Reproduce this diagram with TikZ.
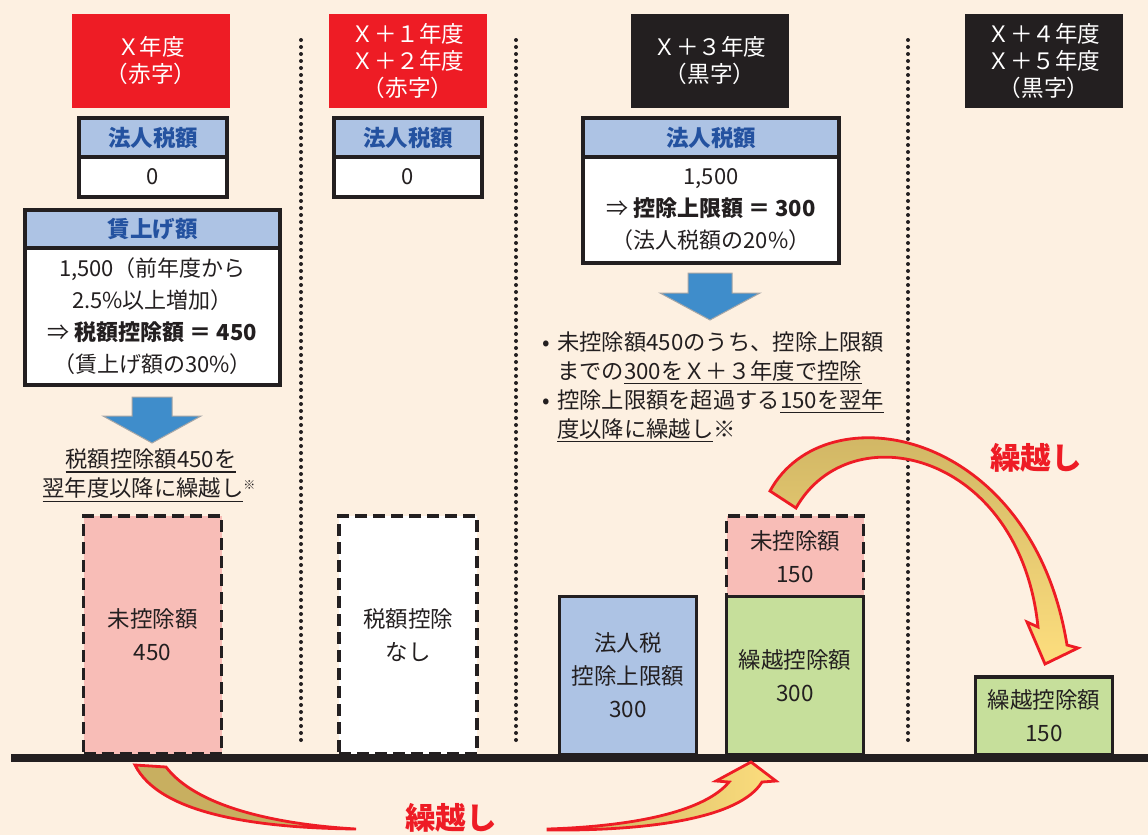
\documentclass[tikz,border=0pt]{standalone}
\usepackage{fontspec}
\setmainfont{Noto Sans CJK JP}
\definecolor{bg}{HTML}{FDF0E1}
\definecolor{hred}{HTML}{EE1C25}
\definecolor{ink}{HTML}{231F20}
\definecolor{hblue}{HTML}{ADC3E4}
\definecolor{tblue}{HTML}{2452A0}
\definecolor{pinkbar}{HTML}{F8BDB7}
\definecolor{greenbar}{HTML}{C6DF9B}
\definecolor{arrblue}{HTML}{3F8DCB}
\definecolor{khaki}{HTML}{C8AF60}
\definecolor{yel}{HTML}{FDDE7E}
\newcommand\ulin[1]{\setbox0=\hbox{#1}\rlap{\color{ink}\rule[-5pt]{\wd0}{1.4pt}}\box0}
\begin{document}
\begin{tikzpicture}[x=1pt,y=-1pt,
  hdr/.style={fill=#1, text=white, minimum width=158pt, minimum height=94pt, inner sep=0pt, align=center, font=\fontsize{22.6}{27}\selectfont},
  boxhead/.style={draw=ink, line width=3.5pt, fill=hblue, text=tblue, inner sep=0pt, font=\fontsize{22.5}{26}\selectfont\bfseries},
  boxbody/.style={draw=ink, line width=3.5pt, fill=white, text=ink, inner sep=0pt, align=center, font=\fontsize{22}{32}\selectfont},
  bar/.style={draw=ink, line width=3.5pt, text=ink, inner sep=0pt, align=center, font=\fontsize{22.5}{33}\selectfont},
  dashbar/.style={bar, dash pattern=on 12pt off 6pt},
  txt/.style={text=ink, inner sep=0pt, font=\fontsize{22.3}{29}\selectfont},
  sep/.style={ink, line width=4pt, line cap=round, dash pattern=on 0pt off 7pt},
  bigarrow/.style={fill=arrblue, draw=gray!70, line width=1pt},
  curvearrow/.style={draw=hred, line width=2.8pt, line join=miter},
  redlabel/.style={text=hred, inner sep=0pt, font=\fontsize{30.5}{30}\selectfont\bfseries}]
\fill[bg] (0,0) rectangle (1148,835);
\useasboundingbox (0,0) rectangle (1148,835);

% separators
\draw[sep] (301,40) -- (301,746);
\draw[sep] (516,40) -- (516,746);
\draw[sep] (908,40) -- (908,746);

% headers
\node[hdr=hred] (h1) at (151,61) {Ｘ年度\\（赤字）};
\node[hdr=hred] (h2) at (408,61) {Ｘ＋１年度\\Ｘ＋２年度\\（赤字）};
\node[hdr=ink] (h3) at (710,61) {Ｘ＋３年度\\（黒字）};
\node[hdr=ink] (h4) at (1044,61) {Ｘ＋４年度\\Ｘ＋５年度\\（黒字）};

% column 1 boxes
\node[boxhead, minimum width=148pt, minimum height=39pt] (t1h) at (153,137.5) {法人税額};
\node[boxbody, minimum width=148pt, minimum height=40pt] (t1b) at (153,177) {0};
\node[boxhead, minimum width=255pt, minimum height=38pt] (w1h) at (152.5,229) {賃上げ額};
\node[boxbody, minimum width=255pt, minimum height=137pt] (w1b) at (152.5,316.5) {1,500（前年度から\\2.5\%以上増加）\\⇒ {\bfseries 税額控除額 ＝ 450}\\（賃上げ額の30\%）};

% column 2 box
\node[boxhead, minimum width=148pt, minimum height=39pt] (t2h) at (408,137.5) {法人税額};
\node[boxbody, minimum width=148pt, minimum height=40pt] (t2b) at (408,177) {0};

% column 3 box
\node[boxhead, minimum width=256pt, minimum height=39pt] (t3h) at (711,137.5) {法人税額};
\node[boxbody, minimum width=256pt, minimum height=106pt] (t3b) at (711,210) {1,500\\⇒ {\bfseries 控除上限額 ＝ 300}\\（法人税額の20\%）};

% big blue arrows
\draw[bigarrow, shift={(152,397)}] (-20,0) -- (20,0) -- (20,19) -- (49,19) -- (0,46) -- (-49,19) -- (-20,19) -- cycle;
\draw[bigarrow, shift={(710,273)}] (-22,0) -- (22,0) -- (22,20) -- (50,20) -- (0,47) -- (-50,20) -- (-22,20) -- cycle;

% column 1 text
\node[txt] (c1l1) at (151,461) {\ulin{税額控除額450を}};
\node[txt] (c1l2) at (149,490) {\ulin{翌年度以降に繰越し}\raisebox{7pt}{\fontsize{12}{12}\selectfont ※}};

% column 3 bullet text
\node[txt, anchor=base west] (c3l1) at (536,350) {\makebox[21pt][c]{•}未控除額450のうち、控除上限額};
\node[txt, anchor=base west] (c3l2) at (536,379) {\hspace{21pt}までの\ulin{300をＸ＋３年度で控除}};
\node[txt, anchor=base west] (c3l3) at (536,408) {\makebox[21pt][c]{•}控除上限額を超過する\ulin{150を翌年}};
\node[txt, anchor=base west] (c3l4) at (536,437) {\hspace{21pt}\ulin{度以降に繰越し}※};

% bars
\node[dashbar, fill=pinkbar, minimum width=138pt, minimum height=238pt] (b1) at (152.5,635) {未控除額\\450};
\node[dashbar, fill=white, minimum width=138pt, minimum height=238pt] (b2) at (408,635) {税額控除\\なし};
\node[bar, fill=hblue, minimum width=137pt, minimum height=158pt] (b3) at (628,675.5) {法人税\\控除上限額\\300};
\node[dashbar, fill=pinkbar, minimum width=137pt, minimum height=81pt] (b4) at (795,556.5) {未控除額\\150};
\node[bar, fill=greenbar, minimum width=137pt, minimum height=158pt] (b5) at (795,675.5) {繰越控除額\\300};
\node[bar, fill=greenbar, minimum width=137pt, minimum height=78pt] (b6) at (1044,716) {繰越控除額\\150};

% baseline
\draw[ink, line width=8pt] (11,758) -- (1148,758);

% top curved arrow
\shadedraw[curvearrow, left color=khaki, right color=yel, shading angle=0]
  (770,491) .. controls (825,390) and (1032,428) .. (1067,645)
  -- (1078,648) -- (1045,664) -- (1027,622) -- (1038,627)
  .. controls (1020,452) and (850,412) .. (796,508) -- cycle;

% bottom curved arrow, left piece
\filldraw[curvearrow, fill=khaki]
  (135,765) .. controls (160,815) and (260,828) .. (356,829)
  .. controls (270,824) and (195,805) .. (166,767) -- cycle;
% bottom curved arrow, right piece
\shadedraw[curvearrow, left color=khaki, right color=yel]
  (548,829) .. controls (640,826) and (706,810) .. (729,782)
  -- (716,781) -- (751,762) -- (776,781) -- (762,782)
  .. controls (740,818) and (650,831) .. (548,830) -- cycle;

% labels
\node[redlabel] (k1) at (1036,458) {繰越し};
\node[redlabel] (k2) at (451,818) {繰越し};
\end{tikzpicture}
\end{document}
